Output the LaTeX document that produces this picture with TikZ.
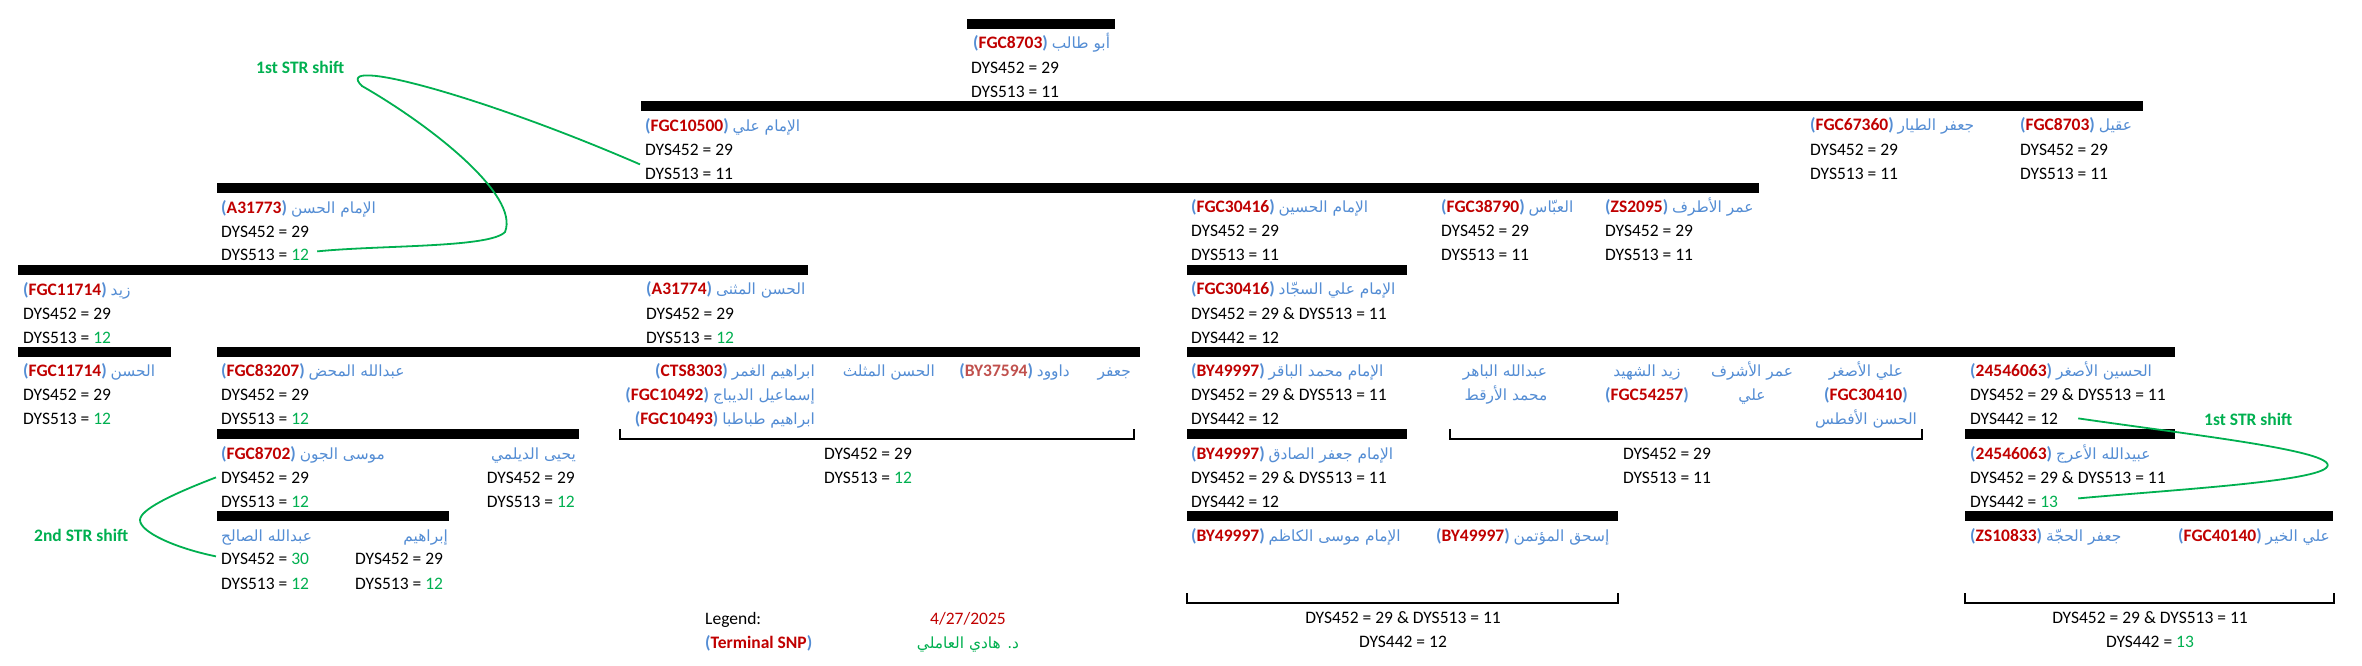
\documentclass[tikz,border=0pt]{standalone}
\usepackage{fontspec}
\setmainfont{Carlito}
\newfontfamily\arabicfont[Script=Arabic,Scale=0.88]{DejaVu Sans}
\TeXXeTstate=1
\definecolor{nameblue}{RGB}{84,141,212}
\definecolor{snpred}{RGB}{192,0,0}
\definecolor{snpredb}{RGB}{192,80,77}
\definecolor{strgreen}{RGB}{0,176,80}
\newcommand{\mainsz}{\fontsize{17.5}{20}\selectfont}
\newcommand{\ar}[1]{{\arabicfont #1}}
\newcommand{\snp}[1]{{\color{nameblue}\bfseries(}{\color{snpred}\bfseries #1}{\color{nameblue}\bfseries)}}
\newcommand{\snpb}[1]{{\color{nameblue}\bfseries(}{\color{snpredb}\bfseries #1}{\color{nameblue}\bfseries)}}
\newcommand{\an}[1]{{\color{nameblue}\ar{#1}}}
\newcommand{\nm}[2]{\snp{#1} \an{#2}}
\newcommand{\gr}[1]{{\color{strgreen}#1}}
\tikzset{
  lbl/.style={anchor=base west,inner sep=0pt,font=\mainsz},
  lblc/.style={anchor=base,inner sep=0pt,font=\mainsz},
  lblr/.style={anchor=base east,inner sep=0pt,font=\mainsz},
  bar/.style={fill=black},
  brk/.style={draw=black,line width=1.2pt},
  strc/.style={draw=strgreen,line width=1.8pt},
  strlbl/.style={anchor=base west,inner sep=0pt,font=\mainsz\bfseries,text=strgreen}
}
\begin{document}
\begin{tikzpicture}[x=1pt,y=-1pt]
\useasboundingbox (0,0) rectangle (2362,665);
\fill[white] (0,0) rectangle (2362,665);
% bars
\fill[bar] (967,19) rectangle (1115,29);
\fill[bar] (641,101) rectangle (2143,111);
\fill[bar] (217,183) rectangle (1759,193);
\fill[bar] (18,265) rectangle (808,275);
\fill[bar] (1187,265) rectangle (1407,275);
\fill[bar] (18,347) rectangle (171,357);
\fill[bar] (217,347) rectangle (1140,357);
\fill[bar] (1187,347) rectangle (2175,357);
\fill[bar] (217,429) rectangle (579,439);
\fill[bar] (1187,429) rectangle (1407,439);
\fill[bar] (1965,429) rectangle (2175,439);
\fill[bar] (217,511) rectangle (449,521);
\fill[bar] (1187,511) rectangle (1618,521);
\fill[bar] (1965,511) rectangle (2333,521);
% brackets
\draw[brk] (620,429) -- (620,439) -- (1134,439) -- (1134,429);
\draw[brk] (1450,429) -- (1450,439) -- (1922,439) -- (1922,429);
\draw[brk] (1187,593) -- (1187,603) -- (1618,603) -- (1618,593);
\draw[brk] (1965,593) -- (1965,603) -- (2334,603) -- (2334,593);
% top
\node[lbl] (abutalib) at (973,48) {\nm{FGC8703}{\beginR أبو طالب\endR}};
\node[lbl] (abutalibA) at (971,73) {DYS452 = 29};
\node[lbl] (abutalibB) at (971,97) {DYS513 = 11};
\node[lbl] (ali) at (645,131) {\nm{FGC10500}{\beginR الإمام علي\endR}};
\node[lbl] (aliA) at (645,155) {DYS452 = 29};
\node[lbl] (aliB) at (645,179) {DYS513 = 11};
\node[lbl] (tayyar) at (1810,130) {\nm{FGC67360}{\beginR جعفر الطيار\endR}};
\node[lbl] (tayyarA) at (1810,155) {DYS452 = 29};
\node[lbl] (tayyarB) at (1810,179) {DYS513 = 11};
\node[lbl] (aqil) at (2020,130) {\nm{FGC8703}{\beginR عقيل\endR}};
\node[lbl] (aqilA) at (2020,155) {DYS452 = 29};
\node[lbl] (aqilB) at (2020,179) {DYS513 = 11};
% row 3
\node[lbl] (hasan) at (221,213) {\nm{A31773}{\beginR الإمام الحسن\endR}};
\node[lbl] (hasanA) at (221,237) {DYS452 = 29};
\node[lbl] (hasanB) at (221,260) {DYS513 = \gr{12}};
\node[lbl] (husayn) at (1191,212) {\nm{FGC30416}{\beginR الإمام الحسين\endR}};
\node[lbl] (husaynA) at (1191,236) {DYS452 = 29};
\node[lbl] (husaynB) at (1191,260) {DYS513 = 11};
\node[lbl] (abbas) at (1441,212) {\nm{FGC38790}{\beginR العبّاس\endR}};
\node[lbl] (abbasA) at (1441,236) {DYS452 = 29};
\node[lbl] (abbasB) at (1441,260) {DYS513 = 11};
\node[lbl] (umar) at (1605,212) {\nm{ZS2095}{\beginR عمر الأطرف\endR}};
\node[lbl] (umarA) at (1605,236) {DYS452 = 29};
\node[lbl] (umarB) at (1605,260) {DYS513 = 11};
% row 4
\node[lbl] (zayd) at (23,295) {\nm{FGC11714}{\beginR زيد\endR}};
\node[lbl] (zaydA) at (23,319) {DYS452 = 29};
\node[lbl] (zaydB) at (23,343) {DYS513 = \gr{12}};
\node[lbl] (muthanna) at (646,294) {\nm{A31774}{\beginR الحسن المثنى\endR}};
\node[lbl] (muthannaA) at (646,319) {DYS452 = 29};
\node[lbl] (muthannaB) at (646,343) {DYS513 = \gr{12}};
\node[lbl] (sajjad) at (1191,294) {\nm{FGC30416}{\beginR الإمام علي السجّاد\endR}};
\node[lbl] (sajjadA) at (1191,319) {DYS452 = 29 \& DYS513 = 11};
\node[lbl] (sajjadB) at (1191,343) {DYS442 = 12};
% row 5
\node[lbl] (hasanb) at (23,376) {\nm{FGC11714}{\beginR الحسن\endR}};
\node[lbl] (hasanbA) at (23,400) {DYS452 = 29};
\node[lbl] (hasanbB) at (23,424) {DYS513 = \gr{12}};
\node[lbl] (mahd) at (221,376) {\nm{FGC83207}{\beginR عبدالله المحض\endR}};
\node[lbl] (mahdA) at (221,400) {DYS452 = 29};
\node[lbl] (mahdB) at (221,424) {DYS513 = \gr{12}};
\node[lblr] (ghamr) at (815,376) {\nm{CTS8303}{\beginR ابراهيم الغمر\endR}};
\node[lblr] (dibaj) at (815,400) {\nm{FGC10492}{\beginR إسماعيل الديباج\endR}};
\node[lblr] (tabataba) at (815,424) {\nm{FGC10493}{\beginR ابراهيم طباطبا\endR}};
\node[lblr] (muthallath) at (935,376) {\an{\beginR الحسن المثلث\endR}};
\node[lblr] (dawud) at (1070,376) {\snpb{BY37594} \an{\beginR داوود\endR}};
\node[lblr] (jafarb) at (1131,376) {\an{\beginR جعفر\endR}};
\node[lbl] (baqir) at (1191,376) {\nm{BY49997}{\beginR الإمام محمد الباقر\endR}};
\node[lbl] (baqirA) at (1191,400) {DYS452 = 29 \& DYS513 = 11};
\node[lbl] (baqirB) at (1191,424) {DYS442 = 12};
\node[lblc] (bahir) at (1505,376) {\an{\beginR عبدالله الباهر\endR}};
\node[lblc] (arqat) at (1506,400) {\an{\beginR محمد الأرقط\endR}};
\node[lblc] (shahid) at (1647,376) {\an{\beginR زيد الشهيد\endR}};
\node[lblc] (shahidS) at (1647,400) {\snp{FGC54257}};
\node[lblc] (ashraf) at (1752,376) {\an{\beginR عمر الأشرف\endR}};
\node[lblc] (ashrafS) at (1752,400) {\an{\beginR علي\endR}};
\node[lblc] (alias) at (1866,376) {\an{\beginR علي الأصغر\endR}};
\node[lblc] (aliasS) at (1866,400) {\snp{FGC30410}};
\node[lblc] (aftas) at (1866,424) {\an{\beginR الحسن الأفطس\endR}};
\node[lbl] (asghar) at (1970,376) {\nm{24546063}{\beginR الحسين الأصغر\endR}};
\node[lbl] (asgharA) at (1970,400) {DYS452 = 29 \& DYS513 = 11};
\node[lbl] (asgharB) at (1970,424) {DYS442 = 12};
\node[strlbl] (strA) at (256,73) {1st STR shift};
\node[strlbl] (strB) at (2204,425) {1st STR shift};
% row 6
\node[lbl] (jawn) at (221,459) {\nm{FGC8702}{\beginR موسى الجون\endR}};
\node[lbl] (jawnA) at (221,483) {DYS452 = 29};
\node[lbl] (jawnB) at (221,507) {DYS513 = \gr{12}};
\node[lblr] (daylami) at (576,459) {\an{\beginR يحيى الديلمي\endR}};
\node[lblr] (daylamiA) at (575,483) {DYS452 = 29};
\node[lblr] (daylamiB) at (575,507) {DYS513 = \gr{12}};
\node[lblc] (brkaA) at (868,459) {DYS452 = 29};
\node[lblc] (brkaB) at (868,483) {DYS513 = \gr{12}};
\node[lbl] (sadiq) at (1191,459) {\nm{BY49997}{\beginR الإمام جعفر الصادق\endR}};
\node[lbl] (sadiqA) at (1191,483) {DYS452 = 29 \& DYS513 = 11};
\node[lbl] (sadiqB) at (1191,507) {DYS442 = 12};
\node[lblc] (brkbA) at (1667,459) {DYS452 = 29};
\node[lblc] (brkbB) at (1667,483) {DYS513 = 11};
\node[lbl] (araj) at (1970,459) {\nm{24546063}{\beginR عبيدالله الأعرج\endR}};
\node[lbl] (arajA) at (1970,483) {DYS452 = 29 \& DYS513 = 11};
\node[lbl] (arajB) at (1970,507) {DYS442 = \gr{13}};
% row 7
\node[strlbl] (strC) at (34,541) {2nd STR shift};
\node[lbl] (salih) at (221,541) {\an{\beginR عبدالله الصالح\endR}};
\node[lbl] (salihA) at (221,564) {DYS452 = \gr{30}};
\node[lbl] (salihB) at (221,589) {DYS513 = \gr{12}};
\node[lblr] (ibrahim) at (448,541) {\an{\beginR إبراهيم\endR}};
\node[lbl] (ibrahimA) at (355,564) {DYS452 = 29};
\node[lbl] (ibrahimB) at (355,589) {DYS513 = \gr{12}};
\node[lbl] (kazim) at (1191,541) {\nm{BY49997}{\beginR الإمام موسى الكاظم\endR}};
\node[lbl] (mutaman) at (1436,541) {\nm{BY49997}{\beginR إسحق المؤتمن\endR}};
\node[lbl] (hujja) at (1970,541) {\nm{ZS10833}{\beginR جعفر الحجّة\endR}};
\node[lblr] (khayr) at (2330,541) {\nm{FGC40140}{\beginR علي الخير\endR}};
\node[lblc] (brkcA) at (1403,623) {DYS452 = 29 \& DYS513 = 11};
\node[lblc] (brkcB) at (1403,647) {DYS442 = 12};
\node[lblc] (brkdA) at (2150,623) {DYS452 = 29 \& DYS513 = 11};
\node[lblc] (brkdB) at (2150,647) {DYS442 = \gr{13}};
% legend
\node[lbl] (legend) at (705,624) {Legend:};
\node[lbl] (legendS) at (705,648) {\snp{Terminal SNP}};
\node[lblc,text=snpred] (date) at (968,624) {4/27/2025};
\node[lblc,text=strgreen] (author) at (968,648) {\ar{\beginR د. هادي العاملي\endR}};
% green curves
\draw[strc] ([xshift=-5pt,yshift=9pt]aliB.west) .. controls (480,95) and (330,55) .. (362,86)
  .. controls (430,125) and (520,195) .. (505,232)
  .. controls (490,248) and (380,245) .. ([xshift=8pt,yshift=3pt]hasanB.east);
\draw[strc] ([xshift=20pt]asgharB.east) .. controls (2200,436) and (2345,452) .. (2326,468)
  .. controls (2310,482) and (2170,490) .. ([xshift=20pt,yshift=3pt]arajB.east);
\draw[strc] ([xshift=-5pt]jawnA.west) .. controls (170,495) and (140,510) .. (140,520)
  .. controls (140,532) and (175,548) .. ([xshift=-5pt,yshift=2pt]salihA.west);
\end{tikzpicture}
\end{document}
